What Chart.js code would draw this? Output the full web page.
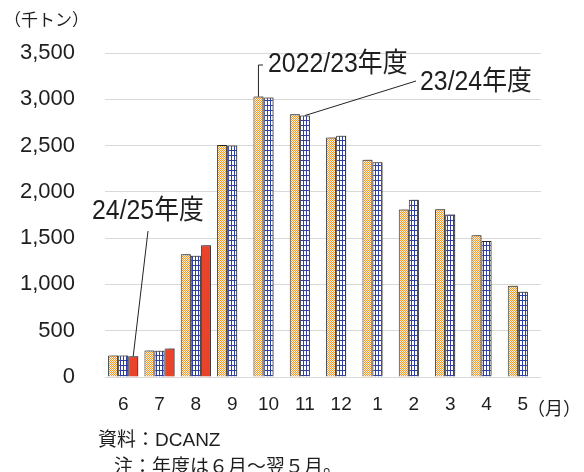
<!DOCTYPE html>
<html>
<head>
<meta charset="utf-8">
<script src="https://cdn.jsdelivr.net/npm/chart.js@4/dist/chart.umd.min.js"></script>
<style>
  body { margin: 0; background: #fff; }
  #wrap { position: relative; width: 584px; height: 472px; overflow: hidden; font-family: "Noto Sans CJK JP", sans-serif; color: #1e1e1e; }
  canvas { position: absolute; left: 0; top: 0; }
  .txt { position: absolute; white-space: nowrap; font-size: 17px; line-height: 1; }
  .foot { font-size: 19px; }
  .foot span { font-family: "Liberation Sans", sans-serif; }
</style>
</head>
<body>
<div id="wrap">
  <canvas id="barChart" width="584" height="472"></canvas>
  <div class="txt" style="left:4px; top:10px;">（千トン）</div>
  <div class="txt" style="left:527px; top:398px; font-size:18px;">（月）</div>
  <div class="txt foot" style="left:98px; top:428px;">資料：<span>DCANZ</span></div>
  <div class="txt foot" style="left:114px; top:455px;">注：年度は６月～翌５月。</div>
</div>
<script>
// months of the fiscal year (June - May)
const months = ['6', '7', '8', '9', '10', '11', '12', '1', '2', '3', '4', '5'];
const fy2022 = [233, 287, 1326, 2505, 3029, 2838, 2586, 2346, 1809, 1813, 1532, 985];
const fy2023 = [233, 284, 1310, 2500, 3018, 2824, 2605, 2320, 1914, 1756, 1468, 920];
const fy2024 = [225, 308, 1424, null, null, null, null, null, null, null, null, null];
const seriesNames = ['2022/23年度', '23/24年度', '24/25年度'];

document.addEventListener('DOMContentLoaded', () => {
    const canvas = document.getElementById('barChart');
    const ctx = canvas.getContext('2d');

    function checker() {
        const c = document.createElement('canvas');
        c.width = 2; c.height = 2;
        const g = c.getContext('2d');
        g.fillStyle = '#fff1dc';
        g.fillRect(0, 0, 2, 2);
        g.fillStyle = '#f0982a';
        g.fillRect(0, 0, 1, 1);
        g.fillRect(1, 1, 1, 1);
        return ctx.createPattern(c, 'repeat');
    }

    function grid() {
        const c = document.createElement('canvas');
        c.width = 3; c.height = 5;
        const g = c.getContext('2d');
        g.fillStyle = '#ffffff';
        g.fillRect(0, 0, 3, 5);
        g.fillStyle = '#2f40a0';
        g.fillRect(0, 0, 1, 5);
        g.fillRect(0, 0, 3, 1);
        return ctx.createPattern(c, 'repeat');
    }

    // labels with leader lines: dataset, index, where the text sits
    const callouts = [
        { ds: 0, idx: 4, text: seriesNames[0], tx: 268, ty: 65, elbow: true },
        { ds: 1, idx: 5, text: seriesNames[1], tx: 420, ty: 83, from: [416, 81] },
        { ds: 2, idx: 0, text: seriesNames[2], tx: 92, ty: 212, from: [148, 231] }
    ];

    const shadowPlugin = {
        id: 'barShadow',
        beforeDatasetsDraw(chart) {
            const c = chart.ctx;
            c.save();
            c.shadowColor = 'rgba(0,0,0,0.35)';
            c.shadowBlur = 2;
            c.shadowOffsetX = 2;
            c.shadowOffsetY = -1;
        },
        afterDatasetsDraw(chart) {
            chart.ctx.restore();
        }
    };

    const calloutPlugin = {
        id: 'callouts',
        afterDraw(chart) {
            const c = chart.ctx;
            c.save();
            c.strokeStyle = '#222';
            c.lineWidth = 1;
            c.fillStyle = '#1e1e1e';
            c.font = '27px "Liberation Sans", "Noto Sans CJK JP"';
            c.textBaseline = 'middle';
            callouts.forEach(co => {
                const bar = chart.getDatasetMeta(co.ds).data[co.idx];
                c.beginPath();
                if (co.elbow) {
                    c.moveTo(bar.x, bar.y);
                    c.lineTo(bar.x, co.ty);
                    c.lineTo(co.tx - 5, co.ty);
                } else {
                    c.moveTo(co.from[0], co.from[1]);
                    c.lineTo(bar.x, bar.y);
                }
                c.stroke();
                // the original lettering is a bit condensed
                c.save();
                c.translate(co.tx, co.ty);
                c.scale(0.92, 1);
                c.fillText(co.text, 0, 0);
                c.restore();
            });
            c.restore();
        }
    };

    const data = {
        labels: months,
        datasets: [
            { label: seriesNames[0], data: fy2022, backgroundColor: checker(), borderColor: '#333', borderWidth: 1 },
            { label: seriesNames[1], data: fy2023, backgroundColor: grid(), borderColor: '#333', borderWidth: 1 },
            { label: seriesNames[2], data: fy2024, backgroundColor: '#ea432b', borderColor: '#333', borderWidth: 1 }
        ]
    };

    const options = {
        responsive: false,
        animation: false,
        layout: { padding: { top: 53, right: 43, left: 0, bottom: 0 } },
        datasets: {
            bar: { categoryPercentage: 0.83, barPercentage: 1.0 }
        },
        plugins: {
            legend: { display: false },
            tooltip: { enabled: false }
        },
        scales: {
            x: {
                grid: { display: false, drawTicks: false },
                border: { display: false },
                ticks: {
                    color: '#1e1e1e',
                    font: { family: '"Liberation Sans"', size: 19 },
                    padding: 16,
                    maxRotation: 0
                },
                afterFit(scale) { scale.height = 95; }
            },
            y: {
                min: 0,
                max: 3500,
                grid: { color: '#d9d9d9', drawTicks: false },
                border: { display: false },
                ticks: {
                    stepSize: 500,
                    color: '#1e1e1e',
                    font: { family: '"Liberation Sans"', size: 22 },
                    padding: 30,
                    callback: v => v.toLocaleString('en-US')
                },
                afterFit(scale) { scale.width = 105; }
            }
        }
    };

    new Chart(ctx, {
        type: 'bar',
        data: data,
        options: options,
        plugins: [shadowPlugin, calloutPlugin]
    });
});
</script>
</body>
</html>
